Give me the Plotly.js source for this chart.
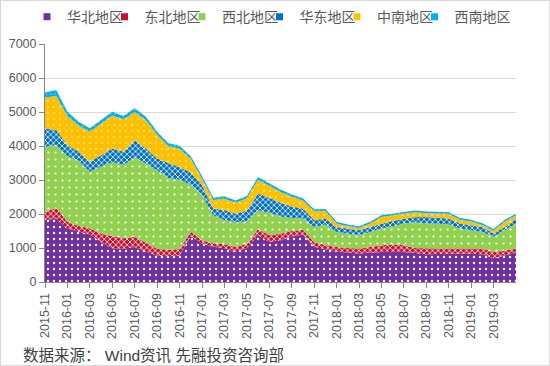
<!DOCTYPE html>
<html><head><meta charset="utf-8">
<script src="https://cdn.plot.ly/plotly-3.0.1.min.js"></script>
<style>
html,body{margin:0;padding:0;background:#fff;}
#wrap{position:relative;width:550px;height:366px;}
#chart{width:550px;height:366px;}
#frame{position:absolute;left:0;top:0;width:550px;height:366px;box-sizing:border-box;border:1px solid #d9d9d9;pointer-events:none;}
</style></head><body>
<div id="wrap"><div id="chart"></div><div id="frame"></div></div>
<script>
const months = ['2015-11','2015-12','2016-01','2016-02','2016-03','2016-04','2016-05','2016-06','2016-07','2016-08','2016-09','2016-10','2016-11','2016-12',
'2017-01','2017-02','2017-03','2017-04','2017-05','2017-06','2017-07','2017-08','2017-09','2017-10','2017-11','2017-12',
'2018-01','2018-02','2018-03','2018-04','2018-05','2018-06','2018-07','2018-08','2018-09','2018-10','2018-11','2018-12',
'2019-01','2019-02','2019-03','2019-04','2019-05'];
const tickLabels = ['2015-11','2016-01','2016-03','2016-05','2016-07','2016-09','2016-11','2017-01','2017-03','2017-05','2017-07','2017-09','2017-11','2018-01','2018-03','2018-05','2018-07','2018-09','2018-11','2019-01','2019-03'];
const seriesNames = ['华北地区','东北地区','西北地区','华东地区','中南地区','西南地区'];
const huabei = [1820,1870,1570,1480,1400,1180,990,980,1030,900,780,760,780,1350,1130,1040,990,900,990,1380,1180,1230,1340,1400,1040,960,900,870,840,860,885,885,880,850,815,825,835,835,830,815,700,790,865];
const dongbei = [240,310,200,170,180,250,360,310,300,250,200,190,190,130,100,100,120,140,130,180,200,190,160,140,130,130,130,130,145,170,195,215,200,150,170,160,150,150,155,170,185,145,120];
const xibei = [1920,1850,1930,1920,1660,1970,2180,2150,2350,2330,2310,2110,2040,1370,1320,820,710,720,660,550,660,510,380,330,450,600,440,420,395,440,490,540,640,760,735,725,715,585,535,485,445,585,735];
const huadong = [540,440,330,260,300,330,400,390,490,450,340,440,370,370,300,200,300,250,320,490,440,400,340,290,200,180,150,150,140,150,150,160,140,150,190,180,165,150,150,150,100,100,145];
const zhongnan = [900,1010,850,770,880,920,970,950,830,830,700,490,540,400,190,250,330,320,360,410,350,320,290,240,260,220,100,70,70,100,190,160,130,140,110,120,135,110,110,60,80,160,95];
const xinan = [150,170,130,110,100,110,110,100,110,100,90,90,90,80,80,70,70,70,70,80,70,70,60,60,60,60,50,50,50,50,50,50,50,50,50,50,50,50,50,50,50,50,50];

const seriesData = [huabei, dongbei, xibei, huadong, zhongnan, xinan];
const colors = ['#7030A0','#C8102E','#92D050','#0070C0','#FFC000','#00B0F0'];
const patterns = [
  {shape:'.', size:6, solidity:0.12, fgcolor:'#ffffff'},
  {shape:'x', size:4, solidity:0.35, fgcolor:'#ffffff'},
  {shape:'.', size:7, solidity:0.08, fgcolor:'#ffffff'},
  {shape:'x', size:4, solidity:0.35, fgcolor:'#ffffff'},
  {shape:'.', size:6, solidity:0.1, fgcolor:'#FFE08A'},
  {shape:'.', size:4, solidity:0.1, fgcolor:'#7fd8f8'}
];
const FONT = 'Liberation Sans, Noto Sans CJK SC, sans-serif';
const legendIds = ['legend','legend2','legend3','legend4','legend5','legend6'];

const traces = [];
seriesData.forEach((d, k) => {
  traces.push({
    type:'scatter', mode:'lines', x: months, y: d, stackgroup:'one',
    name: seriesNames[k], showlegend:false,
    line:{width:0, color: colors[k]}, fillcolor: colors[k],
    fillpattern: Object.assign({bgcolor: colors[k], fillmode:'replace'}, patterns[k]),
    hoverinfo:'x+y+name'
  });
});
seriesNames.forEach((n, k) => {
  traces.push({
    type:'scatter', mode:'markers', x:[null], y:[null], name:n, showlegend:true, legend: legendIds[k],
    marker:{symbol:'square', size:7, color: colors[k]}, hoverinfo:'skip'
  });
});

const layout = {
  width:550, height:366,
  margin:{l:45, r:34, t:44, b:84, autoexpand:false},
  paper_bgcolor:'#ffffff', plot_bgcolor:'#ffffff',
  font:{family:FONT, color:'#595959'},
  showlegend:true,
  xaxis:{type:'category', range:[0, months.length-1], tickmode:'array', tickvals: tickLabels, ticktext: tickLabels,
         tickangle:-90, ticks:'outside', ticklen:5, tickcolor:'#868686', showline:true, linecolor:'#868686',
         showgrid:false, zeroline:false, tickfont:{size:12.5, color:'#595959', family:FONT}},
  yaxis:{range:[0,7000], dtick:1000, tick0:0, showgrid:true, gridcolor:'#d9d9d9', gridwidth:1,
         showline:true, linecolor:'#868686', ticks:'outside', ticklen:5, tickcolor:'#868686',
         zeroline:false, tickfont:{size:12.5, color:'#595959', family:FONT}},
  annotations:[{text:'数据来源： Wind资讯 先融投资咨询部', xref:'paper', yref:'paper', x:-0.052, y:-0.31,
                xanchor:'left', yanchor:'middle', showarrow:false, font:{size:15.5, color:'#404040', family:FONT}}]
};
legendIds.forEach((id, k) => {
  layout[id] = {orientation:'h', x:(27 + 77.5*k - 45)/471, xanchor:'left', y:1.113, yanchor:'middle',
                font:{size:14, color:'#595959', family:FONT}, itemwidth:30, bgcolor:'rgba(0,0,0,0)'};
});
Plotly.newPlot('chart', traces, layout, {displayModeBar:false, staticPlot:true});
</script>
</body></html>
